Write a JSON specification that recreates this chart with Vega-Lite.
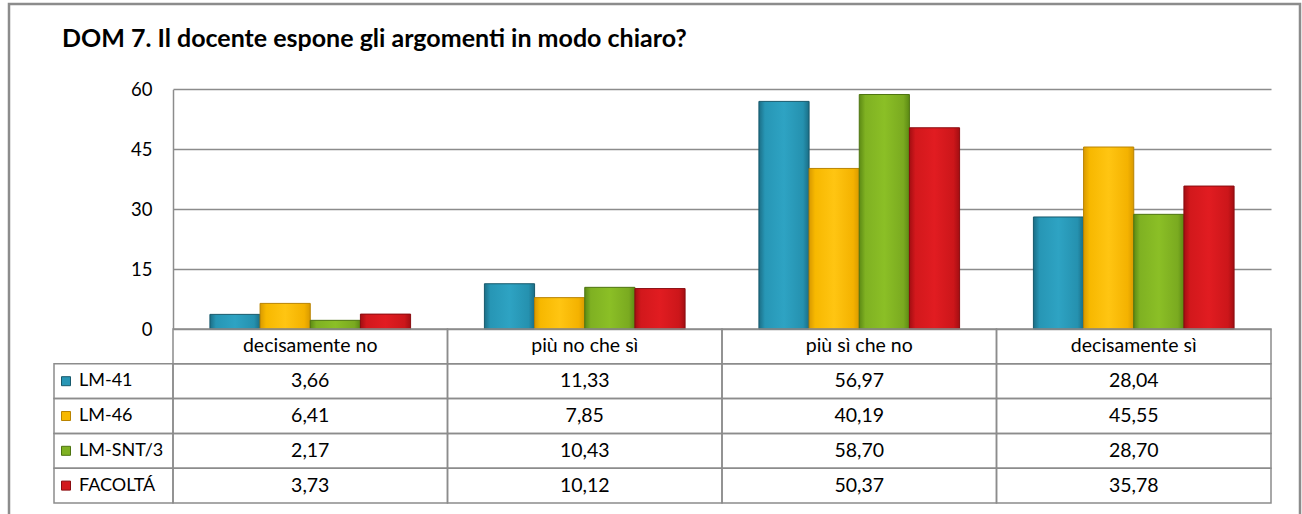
{
  "$schema": "https://vega.github.io/schema/vega-lite/v6.json",
  "width": 1291,
  "height": 514,
  "autosize": "none",
  "padding": {"left": 9, "top": 4, "right": 2, "bottom": -4},
  "background": "white",
  "config": {
    "view": {"stroke": "#8c8c8c", "strokeWidth": 2.5},
    "font": "Lato",
    "locale": {"number": {"decimal": ",", "thousands": ".", "grouping": [3], "currency": ["€", ""]}}
  },
  "title": {
    "text": "DOM 7. Il docente espone gli argomenti in modo chiaro?",
    "anchor": "start",
    "frame": "group",
    "orient": "top",
    "font": "Lato",
    "fontSize": 25,
    "fontWeight": "bold",
    "color": "#000000",
    "baseline": "alphabetic",
    "offset": 0,
    "dx": 53,
    "dy": 68
  },
  "datasets": {
    "vals": [
      {"risposta": "decisamente no", "corso": "LM-41", "perc": 3.66},
      {"risposta": "decisamente no", "corso": "LM-46", "perc": 6.41},
      {"risposta": "decisamente no", "corso": "LM-SNT/3", "perc": 2.17},
      {"risposta": "decisamente no", "corso": "FACOLTÁ", "perc": 3.73},
      {"risposta": "più no che sì", "corso": "LM-41", "perc": 11.33},
      {"risposta": "più no che sì", "corso": "LM-46", "perc": 7.85},
      {"risposta": "più no che sì", "corso": "LM-SNT/3", "perc": 10.43},
      {"risposta": "più no che sì", "corso": "FACOLTÁ", "perc": 10.12},
      {"risposta": "più sì che no", "corso": "LM-41", "perc": 56.97},
      {"risposta": "più sì che no", "corso": "LM-46", "perc": 40.19},
      {"risposta": "più sì che no", "corso": "LM-SNT/3", "perc": 58.70},
      {"risposta": "più sì che no", "corso": "FACOLTÁ", "perc": 50.37},
      {"risposta": "decisamente sì", "corso": "LM-41", "perc": 28.04},
      {"risposta": "decisamente sì", "corso": "LM-46", "perc": 45.55},
      {"risposta": "decisamente sì", "corso": "LM-SNT/3", "perc": 28.70},
      {"risposta": "decisamente sì", "corso": "FACOLTÁ", "perc": 35.78}
    ]
  },
  "data": {"name": "vals"},
  "layer": [
    {
      "encoding": {
        "x": {"field": "risposta", "type": "nominal", "sort": null,
              "scale": {"type": "band", "domain": ["decisamente no", "più no che sì", "più sì che no", "decisamente sì"], "range": [164, 1262], "paddingInner": 0, "paddingOuter": 0},
              "axis": null},
        "xOffset": {"field": "corso", "type": "nominal",
              "scale": {"domain": ["LM-41", "LM-46", "LM-SNT/3", "FACOLTÁ"], "paddingInner": 0, "paddingOuter": 0.736}},
        "y": {"field": "perc", "type": "quantitative",
              "scale": {"domain": [0, 60], "range": [325, 85.3], "nice": false},
              "axis": {"orient": "left", "offset": -164, "values": [0, 15, 30, 45, 60], "grid": true, "gridColor": "#8c8c8c", "gridWidth": 1.5, "domain": true, "domainColor": "#8c8c8c", "domainWidth": 1.5, "ticks": false, "labelPadding": 21, "labelFont": "Lato", "labelFontSize": 18.5, "labelColor": "#000000", "title": null}}
      },
      "layer": [
        {"transform": [{"filter": "datum.corso === 'LM-41'"}],
         "mark": {"type": "bar", "stroke": "#17596c", "strokeWidth": 1,
                  "fill": {"gradient": "linear", "x1": 0, "x2": 1, "y1": 0, "y2": 0, "stops": [{"offset": 0, "color": "#1B6E86"}, {"offset": 0.12, "color": "#2796B5"}, {"offset": 0.5, "color": "#2EA3C3"}, {"offset": 0.88, "color": "#2591AF"}, {"offset": 1, "color": "#1B6E86"}]}}},
        {"transform": [{"filter": "datum.corso === 'LM-46'"}],
         "mark": {"type": "bar", "stroke": "#b98300", "strokeWidth": 1,
                  "fill": {"gradient": "linear", "x1": 0, "x2": 1, "y1": 0, "y2": 0, "stops": [{"offset": 0, "color": "#D99A00"}, {"offset": 0.12, "color": "#F7B800"}, {"offset": 0.5, "color": "#FFC512"}, {"offset": 0.88, "color": "#F4B200"}, {"offset": 1, "color": "#D99A00"}]}}},
        {"transform": [{"filter": "datum.corso === 'LM-SNT/3'"}],
         "mark": {"type": "bar", "stroke": "#4d7410", "strokeWidth": 1,
                  "fill": {"gradient": "linear", "x1": 0, "x2": 1, "y1": 0, "y2": 0, "stops": [{"offset": 0, "color": "#5C8A14"}, {"offset": 0.12, "color": "#7FB122"}, {"offset": 0.5, "color": "#8BBF26"}, {"offset": 0.88, "color": "#7AAA20"}, {"offset": 1, "color": "#5C8A14"}]}}},
        {"transform": [{"filter": "datum.corso === 'FACOLTÁ'"}],
         "mark": {"type": "bar", "stroke": "#8a0c10", "strokeWidth": 1,
                  "fill": {"gradient": "linear", "x1": 0, "x2": 1, "y1": 0, "y2": 0, "stops": [{"offset": 0, "color": "#A30E12"}, {"offset": 0.12, "color": "#D2181C"}, {"offset": 0.5, "color": "#E11C21"}, {"offset": 0.88, "color": "#CC161A"}, {"offset": 1, "color": "#A30E12"}]}}}
      ]
    },
    {
      "encoding": {
        "x": {"field": "risposta", "type": "nominal", "sort": null,
              "scale": {"type": "band", "domain": ["decisamente no", "più no che sì", "più sì che no", "decisamente sì"], "range": [164, 1262], "paddingInner": 0, "paddingOuter": 0},
              "axis": null}
      },
      "layer": [
        {"transform": [{"filter": "datum.corso === 'LM-41'"}],
         "mark": {"type": "rect", "fill": "transparent", "stroke": "#8c8c8c", "strokeWidth": 1.5},
         "encoding": {"y": {"datum": "header", "type": "nominal", "scale": {"type": "band", "domain": ["header", "LM-41", "LM-46", "LM-SNT/3", "FACOLTÁ"], "range": [325, 499], "paddingInner": 0, "paddingOuter": 0}, "axis": null}}},
        {"transform": [{"filter": "datum.corso === 'LM-41'"}],
         "mark": {"type": "text", "font": "Lato", "fontSize": 19.5, "color": "#000000"},
         "encoding": {"text": {"field": "risposta"}, "y": {"datum": "header", "type": "nominal", "scale": {"type": "band", "domain": ["header", "LM-41", "LM-46", "LM-SNT/3", "FACOLTÁ"], "range": [325, 499], "paddingInner": 0, "paddingOuter": 0}, "axis": null}}},
        {"mark": {"type": "rect", "fill": "transparent", "stroke": "#8c8c8c", "strokeWidth": 1.5},
         "encoding": {"y": {"field": "corso", "type": "nominal", "scale": {"type": "band", "domain": ["header", "LM-41", "LM-46", "LM-SNT/3", "FACOLTÁ"], "range": [325, 499], "paddingInner": 0, "paddingOuter": 0}, "axis": null}}},
        {"mark": {"type": "text", "font": "Lato", "fontSize": 19.5, "color": "#000000"},
         "encoding": {"text": {"field": "perc", "type": "quantitative", "format": ".2f"}, "y": {"field": "corso", "type": "nominal", "scale": {"type": "band", "domain": ["header", "LM-41", "LM-46", "LM-SNT/3", "FACOLTÁ"], "range": [325, 499], "paddingInner": 0, "paddingOuter": 0}, "axis": null}}}
      ]
    },
    {
      "transform": [{"filter": "datum.risposta === 'decisamente no'"}],
      "encoding": {
        "x": {"datum": "legenda", "type": "nominal", "scale": {"type": "band", "domain": ["legenda"], "range": [45, 164], "paddingInner": 0, "paddingOuter": 0}, "axis": null},
        "y": {"field": "corso", "type": "nominal", "scale": {"type": "band", "domain": ["header", "LM-41", "LM-46", "LM-SNT/3", "FACOLTÁ"], "range": [325, 499], "paddingInner": 0, "paddingOuter": 0}, "axis": null}
      },
      "layer": [
        {"mark": {"type": "rect", "fill": "transparent", "stroke": "#8c8c8c", "strokeWidth": 1.5}},
        {"mark": {"type": "square", "size": 81, "opacity": 1, "filled": true, "xOffset": 12, "strokeWidth": 1},
         "encoding": {
           "x": {"datum": "legenda", "type": "nominal", "bandPosition": 0, "scale": {"type": "band", "domain": ["legenda"], "range": [45, 164], "paddingInner": 0, "paddingOuter": 0}, "axis": null},
           "fill": {"field": "corso", "type": "nominal", "scale": {"domain": ["LM-41", "LM-46", "LM-SNT/3", "FACOLTÁ"], "range": ["#2796B5", "#F7B800", "#7FB122", "#D2181C"]}, "legend": null},
           "stroke": {"field": "corso", "type": "nominal", "scale": {"domain": ["LM-41", "LM-46", "LM-SNT/3", "FACOLTÁ"], "range": ["#17596c", "#b98300", "#4d7410", "#8a0c10"]}, "legend": null}
         }},
        {"mark": {"type": "text", "align": "left", "dx": 25, "font": "Lato", "fontSize": 18, "color": "#000000"},
         "encoding": {
           "x": {"datum": "legenda", "type": "nominal", "bandPosition": 0, "scale": {"type": "band", "domain": ["legenda"], "range": [45, 164], "paddingInner": 0, "paddingOuter": 0}, "axis": null},
           "text": {"field": "corso"}
         }}
      ]
    }
  ],
  "resolve": {"scale": {"x": "independent", "y": "independent", "fill": "independent", "stroke": "independent"}}
}
